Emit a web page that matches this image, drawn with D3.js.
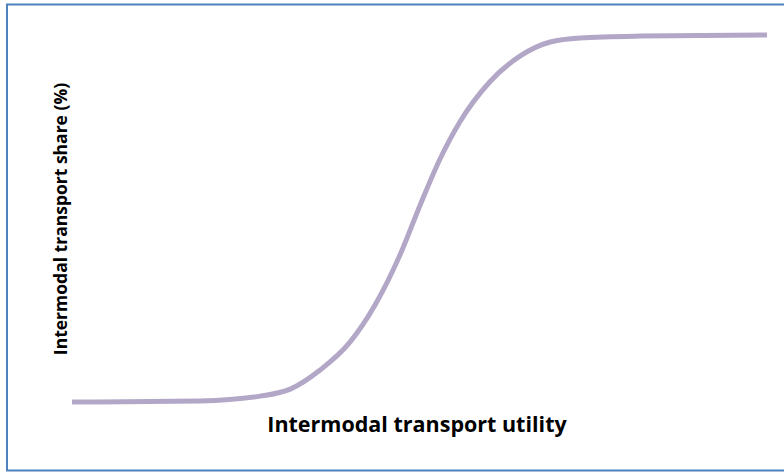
<!DOCTYPE html>
<html>
<head>
<meta charset="utf-8">
<script src="https://cdn.jsdelivr.net/npm/d3@7"></script>
<style>
  body { margin: 0; background: #fff; }
  svg { display: block; }
</style>
</head>
<body>
<div id="chart"></div>
<script>
// utility (arbitrary units) vs intermodal share (%)
const utility = [0, 18.4, 27.1, 31.4, 35.7, 40, 43.6, 47.2, 50.1, 52.9, 55.8, 60.1, 64.5, 68.8, 73.1, 81.7, 100]
const share = [0, 0.3, 1.6, 3.5, 8.7, 16.3, 26.4, 40.1, 53.7, 66, 76.3, 87.2, 94.3, 98.1, 99.2, 99.7, 100]

const width = 784
const height = 472
const margin = { top: 35, right: 17, bottom: 70, left: 72 }

const svg = d3.select("#chart")
  .append("svg")
  .attr("width", width)
  .attr("height", height)

svg.append("rect")
  .attr("x", 7)
  .attr("y", 4.5)
  .attr("width", 780)
  .attr("height", 466)
  .attr("fill", "none")
  .attr("stroke", "#4f81bd")
  .attr("stroke-width", 2)

const x = d3.scaleLinear()
  .domain([0, 100])
  .range([margin.left, width - margin.right])

const y = d3.scaleLinear()
  .domain([0, 100])
  .range([402, margin.top])

const line = d3.line()
  .x((d, i) => x(utility[i]))
  .y(d => y(d))
  .curve(d3.curveMonotoneX)

svg.append("path")
  .datum(share)
  .attr("d", line)
  .attr("fill", "none")
  .attr("stroke", "#b3a7c8")
  .attr("stroke-width", 5)

svg.append("text")
  .attr("x", 417)
  .attr("y", 432)
  .attr("text-anchor", "middle")
  .attr("font-family", "Open Sans")
  .attr("font-weight", "bold")
  .attr("font-size", 21.5)
  .attr("fill", "#000")
  .text("Intermodal transport utility")

svg.append("text")
  .attr("transform", "translate(67,219) rotate(-90)")
  .attr("text-anchor", "middle")
  .attr("font-family", "Open Sans")
  .attr("font-weight", "bold")
  .attr("font-size", 17.5)
  .attr("fill", "#000")
  .text("Intermodal transport share (%)")
</script>
</body>
</html>
